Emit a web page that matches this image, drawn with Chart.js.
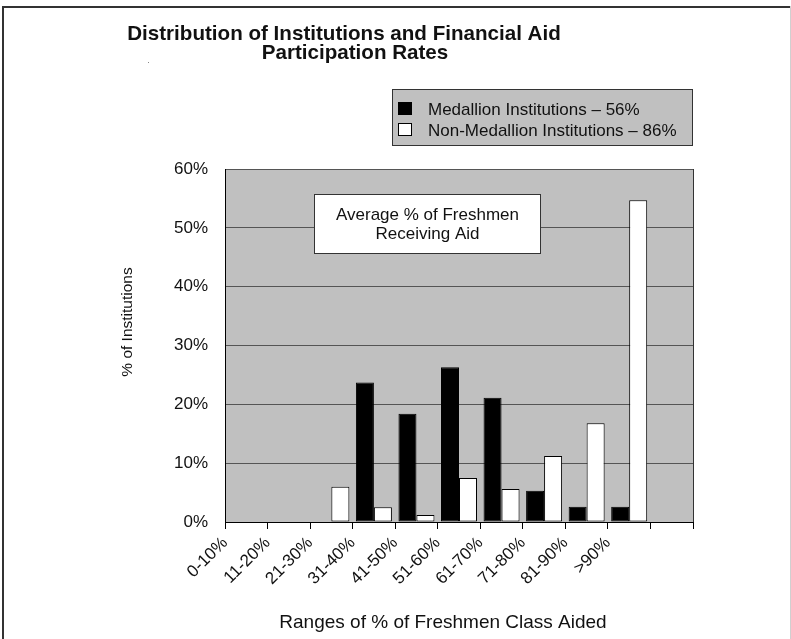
<!DOCTYPE html>
<html><head><meta charset="utf-8">
<script src="https://cdn.jsdelivr.net/npm/chart.js@4.4.0/dist/chart.umd.min.js"></script>
<style>html,body{margin:0;padding:0;background:#fff;overflow:hidden}canvas{display:block}</style>
</head><body>
<canvas id="c" width="791" height="639"></canvas>
<script>
const categories = ['0-10%','11-20%','21-30%','31-40%','41-50%','51-60%','61-70%','71-80%','81-90%','>90%'];
const medallion = [0, 0, 0, 23.7, 18.4, 26.3, 21.1, 5.3, 2.6, 2.6];
const nonMedallion = [0, 0, 6.0, 2.5, 1.2, 7.5, 5.6, 11.2, 16.8, 54.7];
const seriesNames = ['Medallion Institutions \u2013 56%', 'Non-Medallion Institutions \u2013 86%'];
const yTicks = [0, 10, 20, 30, 40, 50, 60];
const titleLines = ['Distribution of Institutions and Financial Aid', 'Participation Rates'];
const xTitle = 'Ranges of % of Freshmen Class Aided';
const yTitle = '% of Institutions';
const noteLines = ['Average % of Freshmen', 'Receiving Aid'];

const FONT = "'Liberation Sans', Arial, sans-serif";
const TXT = '#111';

const decor = {
  id: 'decor',
  beforeDraw(chart) {
    const {ctx, chartArea: a} = chart;
    ctx.save();
    ctx.fillStyle = '#fff';
    ctx.fillRect(0, 0, chart.width, chart.height);
    ctx.fillStyle = '#333';
    ctx.fillRect(2, 6, 2, chart.height - 6);
    ctx.fillRect(2, 6, chart.width - 3, 2);
    ctx.fillStyle = '#d0d0d0';
    ctx.fillRect(chart.width - 1, 6, 1, chart.height - 6);
    ctx.fillStyle = '#c0c0c0';
    ctx.fillRect(a.left, a.top, a.right - a.left, a.bottom - a.top);
    ctx.fillStyle = '#888';
    ctx.fillRect(148, 62, 1, 1);
    ctx.restore();
  },
  beforeDatasetsDraw(chart) {
    const {ctx, chartArea: a} = chart;
    ctx.save();
    ctx.strokeStyle = '#333';
    ctx.lineWidth = 1;
    ctx.beginPath();
    ctx.moveTo(Math.round(a.right) + 0.5, a.top);
    ctx.lineTo(Math.round(a.right) + 0.5, a.bottom);
    ctx.stroke();
    ctx.restore();
  },
  afterDatasetsDraw(chart) {
    const {ctx} = chart;
    ctx.save();
    ctx.fillStyle = '#fff';
    ctx.strokeStyle = '#333';
    ctx.lineWidth = 1;
    ctx.fillRect(314.5, 194.5, 226, 59);
    ctx.strokeRect(314.5, 194.5, 226, 59);
    ctx.fillStyle = TXT;
    ctx.font = '17px ' + FONT;
    ctx.textAlign = 'center';
    ctx.textBaseline = 'alphabetic';
    ctx.fillText(noteLines[0], 427.5, 220);
    ctx.fillText(noteLines[1], 427.5, 239);
    ctx.restore();
  },
  afterDraw(chart) {
    const {ctx} = chart;
    ctx.save();
    ctx.fillStyle = TXT;
    ctx.textAlign = 'center';
    ctx.textBaseline = 'alphabetic';
    ctx.font = 'bold 20.6px ' + FONT;
    ctx.fillText(titleLines[0], 344, 40);
    ctx.fillText(titleLines[1], 355, 59);
    ctx.fillStyle = '#c0c0c0';
    ctx.strokeStyle = '#333';
    ctx.lineWidth = 1;
    ctx.fillRect(392.5, 89.5, 300, 56);
    ctx.strokeRect(392.5, 89.5, 300, 56);
    const ds = chart.data.datasets;
    ctx.font = '17px ' + FONT;
    ctx.textAlign = 'left';
    ds.forEach((d, i) => {
      const y = 102 + i * 21;
      ctx.fillStyle = d.backgroundColor;
      ctx.fillRect(398.5, y + 0.5, 13, 12);
      ctx.strokeStyle = '#000';
      ctx.strokeRect(398.5, y + 0.5, 13, 12);
      ctx.fillStyle = TXT;
      ctx.fillText(d.label, 428, y + 12.5);
    });
    ctx.textAlign = 'center';
    ctx.font = '19px ' + FONT;
    ctx.fillText(xTitle, 443, 628);
    ctx.translate(128, 322);
    ctx.rotate(-Math.PI / 2);
    ctx.font = '15.5px ' + FONT;
    ctx.textBaseline = 'middle';
    ctx.fillText(yTitle, 0, 0);
    ctx.restore();
  }
};

new Chart(document.getElementById('c'), {
  type: 'bar',
  data: {
    labels: [...categories, ''],
    datasets: [
      {label: seriesNames[0], data: medallion, backgroundColor: '#000000', borderColor: '#000000', borderWidth: 1, borderSkipped: false},
      {label: seriesNames[1], data: nonMedallion, backgroundColor: '#ffffff', borderColor: '#000000', borderWidth: 1, borderSkipped: false}
    ]
  },
  options: {
    responsive: false,
    animation: false,
    devicePixelRatio: 1,
    categoryPercentage: 0.846,
    barPercentage: 1.0,
    layout: {padding: {top: 169, right: 98, bottom: 0, left: 0}},
    plugins: {legend: {display: false}, title: {display: false}, tooltip: {enabled: false}},
    scales: {
      x: {
        offset: true,
        afterFit(s) { s.height = 117; },
        grid: {display: true, drawOnChartArea: false, drawTicks: true, tickLength: 7, color: '#000', offset: true},
        border: {display: true, color: '#000', width: 1},
        ticks: {
          autoSkip: false, minRotation: 45, maxRotation: 45, labelOffset: -21.27, padding: 4,
          color: TXT, font: {family: FONT, size: 17}
        }
      },
      y: {
        min: 0, max: 60,
        afterFit(s) { s.width = 225; },
        afterBuildTicks(s) { s.ticks = yTicks.map(v => ({value: v})); },
        grid: {color: '#555', lineWidth: 1, drawTicks: false},
        border: {display: true, color: '#000', width: 1},
        ticks: {padding: 17, color: TXT, font: {family: FONT, size: 17}, callback: v => v + '%'}
      }
    }
  },
  plugins: [decor]
});
</script>
</body></html>
